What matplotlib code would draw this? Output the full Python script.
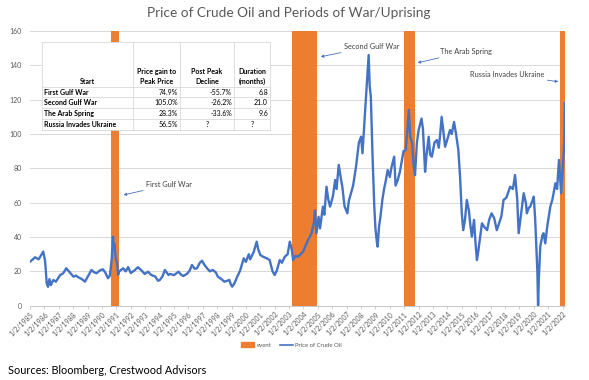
import numpy as np
import matplotlib
matplotlib.use("Agg")
import matplotlib.pyplot as plt
from matplotlib.patches import Patch
from matplotlib.lines import Line2D

plt.rcParams['font.family'] = ['Lato', 'DejaVu Sans']

# price of crude oil (decimal year, $/bbl)
years = [1985.00, 1985.20, 1985.35, 1985.60, 1985.85, 1985.92, 1986.05, 1986.16, 1986.25, 1986.35,
         1986.45, 1986.62, 1986.80, 1987.10, 1987.30, 1987.52, 1987.75, 1988.02, 1988.20, 1988.37,
         1988.60, 1988.82, 1989.05, 1989.27, 1989.45, 1989.62, 1989.85, 1990.07, 1990.25, 1990.42,
         1990.55, 1990.68, 1990.77, 1990.82, 1990.87, 1990.95, 1991.05, 1991.12, 1991.20, 1991.47,
         1991.65, 1991.82, 1992.00, 1992.25, 1992.50, 1992.75, 1992.97, 1993.20, 1993.42, 1993.70,
         1993.90, 1994.02, 1994.20, 1994.37, 1994.62, 1994.72, 1995.00, 1995.32, 1995.50, 1995.65,
         1995.90, 1996.10, 1996.25, 1996.45, 1996.60, 1996.80, 1996.95, 1997.10, 1997.30, 1997.50,
         1997.70, 1997.90, 1998.05, 1998.30, 1998.50, 1998.70, 1998.85, 1998.95, 1999.05, 1999.20,
         1999.40, 1999.60, 1999.85, 2000.00, 2000.20, 2000.30, 2000.55, 2000.75, 2000.85, 2001.00,
         2001.20, 2001.45, 2001.65, 2001.85, 2002.00, 2002.15, 2002.35, 2002.50, 2002.70, 2002.90,
         2003.05, 2003.18, 2003.28, 2003.45, 2003.62, 2003.80, 2003.97, 2004.15, 2004.32, 2004.55,
         2004.72, 2004.80, 2004.90, 2005.05, 2005.15, 2005.35, 2005.45, 2005.60, 2005.72, 2005.85,
         2006.05, 2006.20, 2006.30, 2006.45, 2006.60, 2006.70, 2006.85, 2007.05, 2007.15, 2007.30,
         2007.45, 2007.65, 2007.85, 2008.00, 2008.10, 2008.22, 2008.33, 2008.45, 2008.53, 2008.60,
         2008.68, 2008.75, 2008.80, 2008.92, 2009.00, 2009.10, 2009.15, 2009.25, 2009.35, 2009.48,
         2009.60, 2009.70, 2009.85, 2010.00, 2010.10, 2010.30, 2010.40, 2010.55, 2010.70, 2010.80,
         2010.95, 2011.10, 2011.20, 2011.32, 2011.42, 2011.55, 2011.65, 2011.75, 2011.88, 2012.00,
         2012.20, 2012.30, 2012.45, 2012.55, 2012.70, 2012.80, 2012.92, 2013.10, 2013.27, 2013.40,
         2013.50, 2013.60, 2013.70, 2013.84, 2014.00, 2014.18, 2014.30, 2014.46, 2014.60, 2014.76,
         2014.88, 2015.00, 2015.10, 2015.22, 2015.35, 2015.50, 2015.58, 2015.70, 2015.80, 2015.85,
         2015.95, 2016.05, 2016.15, 2016.25, 2016.40, 2016.55, 2016.76, 2016.90, 2017.07, 2017.25,
         2017.43, 2017.55, 2017.75, 2017.90, 2018.10, 2018.36, 2018.55, 2018.70, 2018.85, 2018.95,
         2019.10, 2019.30, 2019.45, 2019.52, 2019.65, 2019.75, 2019.90, 2020.00, 2020.10, 2020.18,
         2020.25, 2020.30, 2020.35, 2020.45, 2020.60, 2020.68, 2020.80, 2020.95, 2021.15, 2021.30,
         2021.50, 2021.62, 2021.75, 2021.90, 2022.05, 2022.12, 2022.16]
price = [25.6, 27.0, 28.2, 27.0, 30.5, 31.5, 26.0, 13.0, 11.0, 15.5,
         12.0, 15.0, 14.0, 17.9, 18.8, 21.8, 19.5, 16.9, 17.5, 16.5,
         15.5, 14.0, 17.5, 20.8, 19.5, 18.9, 20.5, 21.2, 19.0, 16.0,
         17.5, 27.5, 40.2, 33.0, 36.0, 28.0, 25.0, 17.9, 20.0, 21.8,
         20.0, 22.5, 19.0, 20.5, 22.4, 20.5, 18.5, 19.8, 17.9, 17.0,
         14.5, 15.0, 17.0, 20.8, 17.9, 18.5, 17.8, 19.8, 18.0, 17.3,
         18.5, 20.5, 23.7, 21.5, 21.8, 25.0, 26.2, 24.0, 21.8, 20.0,
         20.8, 19.5, 16.9, 15.5, 14.0, 14.5, 15.0, 12.5, 11.1, 13.0,
         16.9, 20.5, 27.6, 25.5, 30.0, 27.0, 31.5, 37.3, 33.0, 29.5,
         28.5, 27.6, 26.6, 20.0, 17.9, 20.5, 26.6, 25.0, 28.5, 30.0,
         37.3, 33.0, 26.6, 29.0, 28.5, 30.0, 31.5, 35.0, 38.3, 42.0,
         48.0, 55.5, 42.0, 51.8, 45.0, 57.7, 53.0, 69.3, 62.0, 57.7,
         64.0, 73.2, 68.0, 82.0, 74.0, 69.3, 58.0, 53.8, 61.0, 65.5,
         70.0, 81.0, 95.0, 98.4, 88.8, 105.0, 119.8, 135.0, 146.0, 128.0,
         121.7, 100.0, 86.8, 57.7, 45.0, 37.0, 34.4, 46.0, 52.0, 61.6,
         68.0, 72.0, 79.0, 75.0, 80.0, 86.8, 70.0, 73.2, 78.0, 82.9,
         90.0, 90.7, 100.0, 114.0, 98.0, 95.0, 82.0, 76.1, 95.0, 102.3,
         109.0, 103.0, 78.0, 88.0, 98.4, 88.0, 86.8, 95.0, 96.5, 92.0,
         100.0, 110.0, 103.0, 92.6, 97.0, 102.3, 100.0, 107.0, 100.0, 90.7,
         75.0, 53.8, 44.0, 50.0, 61.6, 55.0, 48.0, 40.2, 47.0, 50.0,
         37.0, 26.6, 32.0, 38.3, 48.0, 46.0, 44.0, 50.0, 53.8, 51.0,
         44.0, 47.0, 52.0, 61.6, 63.0, 69.3, 68.0, 76.1, 62.0, 42.2,
         52.0, 65.5, 60.0, 53.8, 57.0, 57.7, 61.0, 63.5, 50.0, 34.4,
         20.0, 0.0, 15.0, 34.4, 41.0, 42.2, 36.3, 47.0, 57.7, 62.0,
         71.3, 68.0, 84.9, 65.5, 84.9, 95.0, 117.9]

# event periods (start, end)
event_start = [1990.60, 2003.22, 2010.97, 2021.85]
event_end = [1991.18, 2004.95, 2011.76, 2022.17]
event_names = ["First Gulf War", "Second Gulf War", "The Arab Spring", "Russia Invades Ukraine"]

# table
tbl_header = ["Start", "Price gain to\nPeak Price", "Post Peak\nDecline", "Duration\n(months)"]
tbl_gain = ["74.9%", "105.0%", "28.3%", "56.5%"]
tbl_decline = ["-55.7%", "-26.2%", "-33.6%", "?"]
tbl_duration = ["6.8", "21.0", "9.6", "?"]

tick_years = list(range(1985, 2023))
tick_labels = ["1/2/%d" % y for y in tick_years]

orange = "#ED7D31"
blue = "#4472C4"
grey = "#595959"

fig = plt.figure(figsize=(5.89, 3.8), dpi=100)
ax = fig.add_axes([30/589, 1-305.7/380, 535/589, 274.7/380])

for s, e in zip(event_start, event_end):
    ax.axvspan(s, e, ymin=0, ymax=1, color=orange, lw=0, zorder=1)
ax.plot(years, price, color=blue, lw=1.7, zorder=3)

ax.set_xlim(1985.0, 2022.17)
ax.set_ylim(0, 160)
ax.set_yticks(range(0, 161, 20))
ax.yaxis.grid(True, color="#D9D9D9", lw=0.7)
ax.set_axisbelow(True)
ax.set_xticks(tick_years)
ax.set_xticklabels(tick_labels, rotation=45, ha="right", rotation_mode="anchor")
ax.tick_params(axis="x", labelsize=5, colors=grey, length=2.5, width=0.5, color="#BFBFBF", pad=1)
ax.tick_params(axis="y", labelsize=5, colors=grey, length=0, pad=6)
for sp in ["top", "right", "left"]:
    ax.spines[sp].set_visible(False)
ax.spines["bottom"].set_color("#BFBFBF")
ax.spines["bottom"].set_linewidth(0.6)

# annotations
ann_kw = dict(fontsize=5.3, color="#404040", va="center",
              arrowprops=dict(arrowstyle="-|>", color=blue, lw=0.6, mutation_scale=4,
                              shrinkA=0, shrinkB=0))
ax.annotate(event_names[0], xy=(1991.5, 64.5), xytext=(1993.05, 70.5), ha="left", **ann_kw)
ax.annotate(event_names[1], xy=(2005.2, 145), xytext=(2006.8, 151), ha="left", **ann_kw)
ax.annotate(event_names[2], xy=(2011.93, 141.5), xytext=(2013.5, 148), ha="left", **ann_kw)
ax.annotate(event_names[3], xy=(2021.7, 130.5), xytext=(2020.75, 134.5), ha="right", **ann_kw)

# title
fig.text(0.49, 1-13/380, "Price of Crude Oil and Periods of War/Uprising",
         ha="center", va="center", fontsize=9.8, color=grey)

# legend
handles = [Patch(color=orange, label="event"),
           Line2D([0], [0], color=blue, lw=1.2, label="Price of Crude Oil")]
fig.legend(handles=handles, loc="center", bbox_to_anchor=(0.495, 1-345/380), ncol=2,
           frameon=False, fontsize=4.3, labelcolor=grey, handlelength=2.2, handleheight=0.8,
           columnspacing=1.5, handletextpad=0.3)

fig.text(8/589, 1-370/380, "Sources: Bloomberg, Crestwood Advisors", ha="left", va="center",
         fontsize=7.8, color="black")

# summary table drawn on top of the chart
tab = fig.add_axes([41.7/589, 1-130/380, 228.3/589, 88.3/380])
tab.set_facecolor("white")
tab.set_xlim(0, 228.3)
tab.set_ylim(88.3, 0)
tab.set_xticks([])
tab.set_yticks([])
for sp in tab.spines.values():
    sp.set_visible(False)
col_edges = [0, 91.6, 138.3, 192.3, 228.3]
row_edges = [0, 45, 55.8, 66.6, 77.4, 88.3]
for r in row_edges:
    tab.plot([0, 228.3], [r, r], color="#D9D9D9", lw=0.6, clip_on=False)
for c in col_edges:
    tab.plot([c, c], [0, 88.3], color="#D9D9D9", lw=0.6, clip_on=False)
for i, h in enumerate(tbl_header):
    tab.text((col_edges[i] + col_edges[i+1]) / 2, 43.5, h, ha="center", va="bottom",
             fontsize=5, fontweight="bold", linespacing=1.5)
for j in range(4):
    yc = (row_edges[j+1] + row_edges[j+2]) / 2
    tab.text(2, yc, event_names[j], ha="left", va="center", fontsize=5, fontweight="bold")
    cells = [tbl_gain[j], tbl_decline[j], tbl_duration[j]]
    for k, v in enumerate(cells):
        if v == "?":
            tab.text((col_edges[k+1] + col_edges[k+2]) / 2, yc, v, ha="center", va="center", fontsize=5)
        else:
            tab.text(col_edges[k+2] - 2, yc, v, ha="right", va="center", fontsize=5)

fig.savefig("out.png", dpi=100)
